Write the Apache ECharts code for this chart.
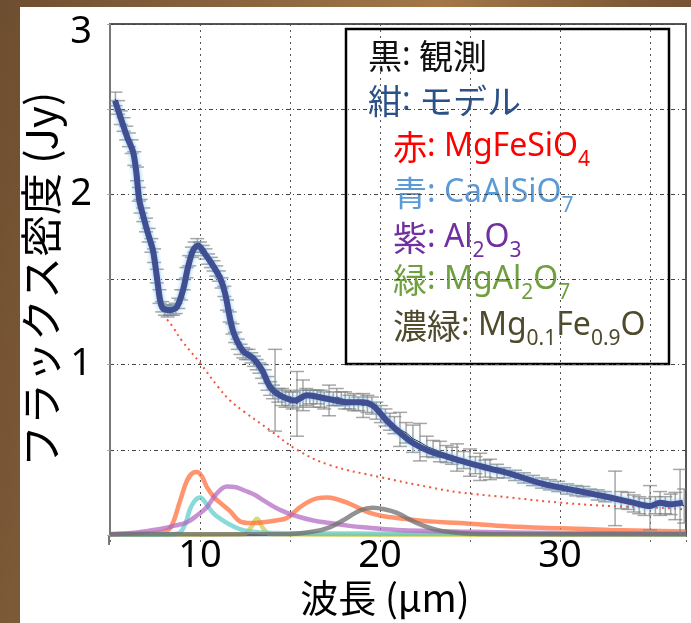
<!DOCTYPE html>
<html>
<head>
<meta charset="utf-8">
<script src="https://cdn.jsdelivr.net/npm/echarts@6/dist/echarts.min.js"></script>
<style>
  html, body { margin: 0; padding: 0; width: 691px; height: 623px; overflow: hidden; }
  body { background: linear-gradient(100deg, #6e4e30 0%, #8a643e 30%, #a37747 55%, #7d5836 80%, #6a4a2e 100%); }
  #c { position: absolute; left: 20px; top: 7px; width: 671px; height: 616px; background: #ffffff; }
</style>
</head>
<body>
<div id="c"></div>
<script>
// Observed spectrum: wavelength (µm), flux density (Jy), 1-sigma error (Jy)
const obsWave = [
  5.30, 5.45, 5.60, 5.75, 5.90, 6.05, 6.20, 6.35, 6.50, 6.60, 6.70, 6.85, 7.00, 7.15, 7.30, 7.45,
  7.60, 7.75, 7.90, 8.05, 8.20, 8.35, 8.50, 8.65, 8.80, 8.95, 9.10, 9.25, 9.40, 9.55, 9.70, 9.85,
  10.00, 10.15, 10.30, 10.45, 10.60, 10.75, 10.90, 11.05, 11.20, 11.35, 11.50, 11.65, 11.80, 11.95,
  12.10, 12.25, 12.40, 12.55, 12.70, 12.85, 13.00, 13.15, 13.30, 13.45, 13.60, 13.75, 13.90, 14.05,
  14.17, 14.35, 14.55, 14.75, 14.95, 15.15, 15.39, 15.55, 15.72, 15.90, 16.10, 16.30, 16.50, 16.70,
  16.90, 17.17, 17.40, 17.60, 17.85, 18.06, 18.30, 18.55, 18.80, 19.06, 19.30, 19.55, 19.80, 20.05,
  20.30, 20.55, 20.80, 21.11, 21.45, 21.83, 22.22, 22.60, 22.95, 23.33, 23.70, 24.00, 24.28, 24.65,
  25.00, 25.30, 25.56, 25.85, 26.11, 26.50, 26.90, 27.50, 28.00, 28.50, 29.00, 29.44, 29.90, 30.40,
  30.90, 31.30, 31.67, 32.10, 32.50, 33.06, 33.40, 33.80, 34.10, 34.40, 34.70, 35.00, 35.30, 35.56,
  35.85, 36.15, 36.40, 36.67, 36.90
];
const obsFlux = [
  2.56, 2.51, 2.45, 2.41, 2.36, 2.32, 2.28, 2.21, 2.12, 2.00, 1.93, 1.88, 1.82, 1.76, 1.70, 1.64,
  1.52, 1.40, 1.34, 1.32, 1.31, 1.32, 1.32, 1.33, 1.36, 1.41, 1.47, 1.54, 1.61, 1.66, 1.69, 1.71,
  1.69, 1.67, 1.65, 1.62, 1.60, 1.58, 1.55, 1.52, 1.48, 1.43, 1.35, 1.28, 1.21, 1.16,
  1.12, 1.09, 1.07, 1.06, 1.06, 1.04, 1.02, 1.00, 0.98, 0.96, 0.93, 0.89, 0.86, 0.84,
  0.85, 0.82, 0.81, 0.80, 0.80, 0.79, 0.77, 0.80, 0.82, 0.81, 0.81, 0.80, 0.81, 0.80,
  0.79, 0.79, 0.80, 0.81, 0.80, 0.79, 0.78, 0.78, 0.77, 0.76, 0.77, 0.76, 0.73, 0.71,
  0.69, 0.665, 0.645, 0.62, 0.60, 0.565, 0.545, 0.52, 0.505, 0.49, 0.475, 0.465, 0.455, 0.44,
  0.425, 0.41, 0.40, 0.39, 0.385, 0.375, 0.365, 0.35, 0.335, 0.32, 0.305, 0.295, 0.285, 0.27,
  0.26, 0.255, 0.25, 0.235, 0.225, 0.215, 0.205, 0.20, 0.185, 0.175, 0.165, 0.16, 0.175, 0.185,
  0.175, 0.18, 0.17, 0.185, 0.17
];
const obsErr = [
  0.04, 0.04, 0.04, 0.04, 0.04, 0.04, 0.04, 0.04, 0.04, 0.04, 0.04, 0.04, 0.04, 0.04, 0.04, 0.04,
  0.04, 0.04, 0.03, 0.03, 0.03, 0.03, 0.03, 0.03, 0.03, 0.03, 0.03, 0.03, 0.03, 0.03, 0.03, 0.03,
  0.03, 0.03, 0.03, 0.03, 0.03, 0.03, 0.03, 0.03, 0.03, 0.03, 0.03, 0.03, 0.03, 0.03,
  0.03, 0.03, 0.03, 0.03, 0.03, 0.03, 0.03, 0.03, 0.03, 0.04, 0.04, 0.04, 0.04, 0.04,
  0.24, 0.04, 0.05, 0.05, 0.04, 0.05, 0.19, 0.05, 0.09, 0.05, 0.04, 0.05, 0.04, 0.05,
  0.05, 0.09, 0.04, 0.05, 0.04, 0.05, 0.04, 0.05, 0.04, 0.07, 0.05, 0.05, 0.05, 0.05,
  0.05, 0.05, 0.05, 0.10, 0.06, 0.08, 0.11, 0.06, 0.05, 0.06, 0.05, 0.05, 0.08, 0.05,
  0.08, 0.05, 0.08, 0.05, 0.06, 0.04, 0.03, 0.03, 0.03, 0.03, 0.03, 0.03, 0.03, 0.03,
  0.03, 0.03, 0.02, 0.03, 0.03, 0.16, 0.05, 0.05, 0.05, 0.05, 0.05, 0.13, 0.05, 0.07,
  0.05, 0.06, 0.08, 0.20, 0.10
];

// Total model spectrum [µm, Jy]
const modelSpec = [
  [5.28, 2.55], [5.56, 2.46], [5.94, 2.34], [6.28, 2.25], [6.45, 2.14], [6.62, 1.97], [6.80, 1.89],
  [7.11, 1.77], [7.39, 1.67], [7.61, 1.51], [7.78, 1.38], [7.94, 1.33], [8.33, 1.32], [8.72, 1.34],
  [9.06, 1.44], [9.33, 1.57], [9.61, 1.67], [9.89, 1.70], [10.28, 1.65], [10.67, 1.59], [11.11, 1.51],
  [11.39, 1.42], [11.83, 1.20], [12.39, 1.08], [12.94, 1.04], [13.44, 0.97], [13.89, 0.87], [14.44, 0.82],
  [15.28, 0.79], [15.94, 0.82], [17.06, 0.80], [18.17, 0.78], [19.00, 0.78], [19.61, 0.76], [20.39, 0.67],
  [21.11, 0.60], [21.83, 0.54], [22.78, 0.49], [23.72, 0.46], [25.00, 0.42], [26.11, 0.39], [27.22, 0.36],
  [29.06, 0.30], [30.94, 0.26], [32.78, 0.22], [34.06, 0.19], [35.00, 0.17], [35.56, 0.19], [36.11, 0.18],
  [36.83, 0.19]
];

// Underlying continuum (dotted red)
const continuum = [
  [6.80, 1.88], [7.20, 1.70], [7.60, 1.50], [7.94, 1.31], [8.50, 1.22], [9.00, 1.14], [10.00, 1.01],
  [11.00, 0.87], [11.67, 0.79], [12.50, 0.72], [13.89, 0.615], [15.39, 0.50], [17.22, 0.41], [20.00, 0.34],
  [22.78, 0.28], [24.44, 0.25], [27.22, 0.22], [30.00, 0.19], [32.78, 0.17], [35.56, 0.16], [37.00, 0.15]
];

// Dust components
const mgFeSiO4 = [
  [5, 0.005], [7, 0.01], [8.0, 0.02], [8.4, 0.05], [8.89, 0.20], [9.28, 0.32], [9.6, 0.365], [9.83, 0.37],
  [10.1, 0.345], [10.39, 0.28], [10.8, 0.22], [11.11, 0.19], [11.67, 0.14], [12.22, 0.08], [12.8, 0.07],
  [13.5, 0.075], [14.2, 0.085], [14.83, 0.10], [15.4, 0.15], [15.94, 0.19], [16.5, 0.215], [17.06, 0.22],
  [17.6, 0.21], [18.17, 0.19], [18.8, 0.16], [19.44, 0.13], [20.2, 0.11], [20.94, 0.10], [22.78, 0.08],
  [24.44, 0.07], [27.22, 0.05], [30, 0.04], [32.78, 0.03], [37, 0.02]
];
const caAlSiO7 = [
  [5, 0.003], [8.5, 0.005], [8.9, 0.015], [9.2, 0.07], [9.44, 0.15], [9.7, 0.20], [10.0, 0.22], [10.3, 0.19],
  [10.72, 0.13], [11.2, 0.09], [11.67, 0.06], [12.2, 0.035], [12.78, 0.02], [14, 0.012], [20, 0.008], [37, 0.005]
];
const al2O3 = [
  [5, 0.005], [6.5, 0.015], [7.78, 0.035], [8.6, 0.055], [9.28, 0.075], [9.9, 0.12], [10.39, 0.165],
  [10.9, 0.24], [11.5, 0.285], [12.0, 0.28], [12.5, 0.26], [13.06, 0.235], [13.5, 0.205], [14.4, 0.15],
  [15.39, 0.11], [16.3, 0.085], [17.22, 0.07], [18.2, 0.055], [19.06, 0.045], [20.94, 0.03], [24.4, 0.02],
  [30, 0.012], [37, 0.008]
];
const mgAl2O7 = [
  [5, 0.002], [12.4, 0.004], [12.8, 0.04], [13.17, 0.095], [13.5, 0.04], [13.9, 0.006], [20, 0.002], [37, 0.002]
];
const mgFeO = [
  [5, 0.004], [15, 0.006], [16.3, 0.02], [17.2, 0.045], [18.17, 0.10], [18.9, 0.145], [19.6, 0.16],
  [20.3, 0.15], [20.94, 0.13], [22.06, 0.07], [23.17, 0.03], [24.4, 0.012], [26, 0.006], [37, 0.004]
];

// Axis tick labels
const xTickLabels = [10, 20, 30];
const yTickLabels = [1, 2, 3];

const observed = obsWave.map((w, i) => [w, obsFlux[i], obsErr[i]]);

const cjk = '"Noto Sans CJK JP", "Noto Sans", sans-serif';
const latin = '"Noto Sans", "Open Sans", sans-serif';

function errorBar(params, api) {
  const x = api.value(0), y = api.value(1), e = api.value(2);
  const hi = api.coord([x, y + e]);
  const lo = api.coord([x, y - e]);
  const w = 7;
  const st = { stroke: 'rgba(130,130,130,0.7)', lineWidth: 1.5 };
  return {
    type: 'group',
    children: [
      { type: 'line', shape: { x1: hi[0], y1: hi[1], x2: lo[0], y2: lo[1] }, style: st },
      { type: 'line', shape: { x1: hi[0] - w, y1: hi[1], x2: hi[0] + w, y2: hi[1] }, style: st },
      { type: 'line', shape: { x1: lo[0] - w, y1: lo[1], x2: lo[0] + w, y2: lo[1] }, style: st }
    ]
  };
}

function component(name, data, color) {
  return {
    name, type: 'line', data, smooth: 0.4, symbol: 'none', silent: true,
    lineStyle: { color, width: 4.5 }, z: 2
  };
}

// Legend block with chemical formulas (subscripts via rich text)
function legendLine(x, yc, color, parts) {
  const rich = {
    c: { fontSize: 34, lineHeight: 48, fontFamily: cjk, fill: color },
    m: { fontSize: 32, lineHeight: 48, fontFamily: latin, fill: color },
    s: { fontSize: 21, lineHeight: 12, verticalAlign: 'bottom', fontFamily: latin, fill: color }
  };
  return {
    type: 'text', left: x, top: yc - 24 + 3, silent: true,
    style: { text: parts, rich, fill: color, font: '32px ' + latin }
  };
}

const chart = echarts.init(document.getElementById('c'));
chart.setOption({
  animation: false,
  backgroundColor: '#ffffff',
  grid: {
    left: 90, top: 17, width: 576, height: 511, outerBoundsMode: 'none', containLabel: false,
    show: true, borderColor: '#555', borderWidth: 2, backgroundColor: 'transparent'
  },
  xAxis: {
    type: 'value', min: 5, max: 37, interval: 5,
    name: '波長 (μm)', nameLocation: 'middle', nameGap: 44, nameMoveOverlap: false,
    nameTextStyle: { fontSize: 38, color: '#000', fontFamily: cjk, padding: [0, 26, 0, 0] },
    axisLine: { show: false },
    axisTick: { show: true, length: 9, lineStyle: { color: '#666', type: [2, 3] } },
    axisLabel: {
      fontSize: 38, color: '#000', fontFamily: latin, margin: 2,
      formatter: v => (xTickLabels.indexOf(v) >= 0 ? String(v) : '')
    },
    splitLine: { show: true, lineStyle: { color: '#555', width: 1, type: [2, 4] } }
  },
  yAxis: {
    type: 'value', min: 0, max: 3, interval: 0.5,
    name: 'フラックス密度 (Jy)', nameLocation: 'middle', nameGap: 48, nameMoveOverlap: false,
    nameTextStyle: { fontSize: 42, color: '#000', fontFamily: cjk },
    axisLine: { show: true, lineStyle: { color: '#777', width: 2 } },
    axisTick: { show: true, length: 3, lineStyle: { color: '#aaa' } },
    axisLabel: {
      fontSize: 38, color: '#000', fontFamily: latin, margin: 18,
      rich: { top: { fontSize: 38, fontFamily: latin, color: '#000', padding: [16, 0, 0, 0] } },
      formatter: v => {
        if (yTickLabels.indexOf(v) < 0) return '';
        return v === yTickLabels[yTickLabels.length - 1] ? '{top|' + v + '}' : String(v);
      }
    },
    splitLine: { show: true, lineStyle: { color: '#444', width: 1, type: [4, 3, 1, 3] } }
  },
  graphic: [
    { type: 'line', silent: true, shape: { x1: 89, y1: 528, x2: 89, y2: 538 }, style: { stroke: '#777', lineWidth: 2 } },
    {
      type: 'group', silent: true, z: 100,
      children: [
        { type: 'rect', shape: { x: 326, y: 22, width: 323, height: 335 }, style: { fill: '#fff', stroke: '#000', lineWidth: 2.5 } },
        legendLine(348, 53, '#111111', '{c|黒}{m|: }{c|観測}'),
        legendLine(348, 98, '#2b5189', '{c|紺}{m|: }{c|モデル}'),
        legendLine(373, 144, '#ff0000', '{c|赤}{m|: MgFeSiO}{s|4}'),
        legendLine(373, 190, '#5b9bd5', '{c|青}{m|: CaAlSiO}{s|7}'),
        legendLine(373, 235, '#7030a0', '{c|紫}{m|: Al}{s|2}{m|O}{s|3}'),
        legendLine(373, 277, '#6f9f3e', '{c|緑}{m|: MgAl}{s|2}{m|O}{s|7}'),
        legendLine(373, 323, '#4f4a2c', '{c|濃緑}{m|: Mg}{s|0.1}{m|Fe}{s|0.9}{m|O}')
      ]
    }
  ],
  series: [
    component('MgAl2O7', mgAl2O7, 'rgba(212,212,95,0.85)'),
    component('MgFeSiO4', mgFeSiO4, 'rgba(255,112,62,0.75)'),
    component('CaAlSiO7', caAlSiO7, 'rgba(100,205,205,0.75)'),
    component('Al2O3', al2O3, 'rgba(175,100,192,0.7)'),
    component('Mg0.1Fe0.9O', mgFeO, 'rgba(110,110,110,0.75)'),
    {
      name: 'continuum', type: 'line', data: continuum, smooth: 0.4, symbol: 'none', silent: true,
      lineStyle: { color: '#f2553a', width: 2, type: [2, 4] }, z: 3
    },
    {
      name: 'errors', type: 'custom', data: observed, renderItem: errorBar, clip: true, silent: true,
      encode: { x: 0, y: 1 }, z: 4
    },
    {
      name: '観測', type: 'line', data: observed.map(d => [d[0], d[1]]), symbol: 'none', silent: true,
      lineStyle: { color: '#111', width: 1 }, z: 5
    },
    {
      name: 'モデル', type: 'line', data: modelSpec, smooth: 0.3, symbol: 'none', silent: true,
      lineStyle: { color: '#414e91', width: 6, shadowColor: 'rgba(110,185,235,0.9)', shadowBlur: 4 }, z: 6
    }
  ]
});
</script>
</body>
</html>
